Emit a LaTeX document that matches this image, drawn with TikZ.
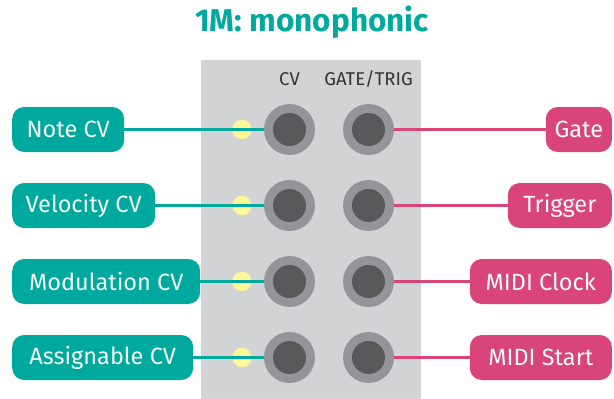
\documentclass[tikz,border=0pt]{standalone}
\usepackage{fontspec}
\setmainfont{Fira Sans}
\definecolor{tealc}{HTML}{00A99D}
\definecolor{pinkc}{HTML}{D9447A}
\definecolor{panelc}{HTML}{D1D3D4}
\definecolor{ringc}{HTML}{939598}
\definecolor{holec}{HTML}{58595B}
\definecolor{ledc}{HTML}{FFF699}
\definecolor{hdrc}{HTML}{333333}
\definecolor{txtc}{HTML}{F4FAF8}
\tikzset{
  lbl/.style={rectangle, rounded corners=12pt, minimum height=45pt, inner sep=0pt, text=txtc, font=\fontsize{23.5}{23.5}\selectfont},
  lbll/.style={lbl, fill=tealc, anchor=west},
  lblr/.style={lbl, fill=pinkc, anchor=east},
  jack/.style={circle, fill=ringc, minimum size=51pt, inner sep=0pt},
  hole/.style={circle, fill=holec, minimum size=33pt, inner sep=0pt},
  ledn/.style={circle, fill=ledc, minimum size=19.5pt, inner sep=0pt},
  tline/.style={draw=tealc, line width=2.7pt},
  pline/.style={draw=pinkc, line width=2.7pt},
  hdr/.style={text=hdrc, font=\fontsize{18.5}{18.5}\selectfont, inner sep=0pt}
}
\begin{document}
\begin{tikzpicture}[x=1pt,y=-1pt]
\useasboundingbox (0,0) rectangle (614,399);
\node[text=tealc, font=\bfseries\fontsize{31.5}{31.5}\selectfont, inner sep=0pt] (title) at (312,22) {1M: monophonic};
\fill[panelc] (201,60) rectangle (421,399);
\node[hdr] (hcv) at (289.5,79) {CV};
\node[hdr] (hgt) at (368.5,79) {GATE/TRIG};
\foreach \i/\y in {1/129.5, 2/205.5, 3/281.5, 4/357.5} {
  \node[ledn] (led\i) at (242,\y) {};
}
\foreach \i/\y in {1/129.5, 2/205.5, 3/281.5, 4/357.5} {
  \node[jack] (cv\i) at (289.5,\y) {};
  \node[hole] (cvh\i) at (289.5,\y) {};
  \node[jack] (gt\i) at (368.5,\y) {};
  \node[hole] (gth\i) at (368.5,\y) {};
}
\node[lbll, minimum width=112pt] (l1) at (12,129.5) {Note CV};
\node[lbll, minimum width=143pt] (l2) at (12,205.5) {Velocity CV};
\node[lbll, minimum width=188pt] (l3) at (12,281.5) {Modulation CV};
\node[lbll, minimum width=181pt] (l4) at (12,357.5) {Assignable CV};
\node[lblr, minimum width=66pt] (r1) at (612,129.5) {Gate};
\node[lblr, minimum width=104pt] (r2) at (612,205.5) {Trigger};
\node[lblr, minimum width=142pt] (r3) at (612,281.5) {MIDI Clock};
\node[lblr, minimum width=142pt] (r4) at (612,357.5) {MIDI Start};
\foreach \i in {1,2,3,4} {
  \draw[tline] (l\i.east) -- (cv\i.west);
  \draw[pline] (gt\i.east) -- (r\i.west);
}
\end{tikzpicture}
\end{document}
